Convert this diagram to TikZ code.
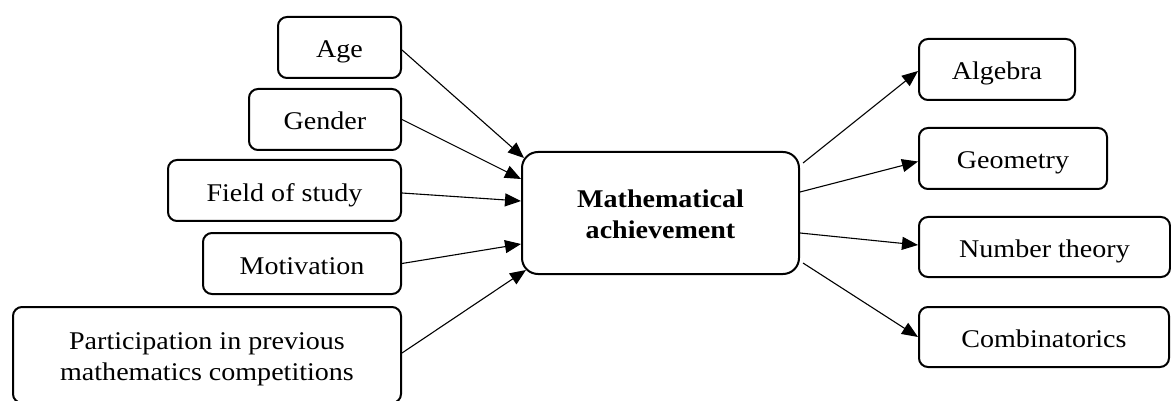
\documentclass[tikz,border=0pt]{standalone}
\usepackage{fontspec}
\setmainfont[FakeStretch=1.1]{Liberation Serif}
\usetikzlibrary{arrows.meta,calc}

\tikzset{
  box/.style={draw, line width=2pt, rounded corners=9pt, align=center,
              inner sep=0pt, text height=21pt, text depth=0pt,
              font=\fontsize{25.5}{31}\selectfont},
  twoline/.style={text height=50pt, text depth=0pt},
  link/.style={line width=1.1pt, -{Triangle[length=16pt,width=13pt]}},
}

\begin{document}
\begin{tikzpicture}[x=1pt,y=-1pt]
  \useasboundingbox (0,0) rectangle (1171,401);

  % influencing factors
  \node[box, minimum width=123pt, minimum height=61pt] (age)    at (339.5,47.5) {Age};
  \node[box, minimum width=152pt, minimum height=61pt] (gender) at (325,119.5) {Gender};
  \node[box, minimum width=233pt, minimum height=61pt] (field)  at (284.5,190.5) {Field of study};
  \node[box, minimum width=198pt, minimum height=61pt] (motiv)  at (302,263.5) {Motivation};
  \node[box, twoline, minimum width=388pt, minimum height=96pt] (part) at (207,355)
       {Participation in previous\\mathematics competitions};

  % central construct
  \node[box, twoline, minimum width=277pt, minimum height=122pt, rounded corners=16pt,
        font=\fontsize{25.5}{31}\selectfont\bfseries] (ach) at (660.5,213)
       {Mathematical\\achievement};

  % achievement domains
  \node[box, minimum width=156pt, minimum height=61pt] (alg)  at (997,69.5) {Algebra};
  \node[box, minimum width=188pt, minimum height=61pt] (geo)  at (1013,158.5) {Geometry};
  \node[box, minimum width=251pt, minimum height=60pt] (num)  at (1044.5,247) {Number theory};
  \node[box, minimum width=250pt, minimum height=60pt] (comb) at (1044,337) {Combinatorics};

  % incoming arrows
  \draw[link] ($(age.east)+(0,2.5)$)    -- ($(ach.west)+(3,-55)$);
  \draw[link] (gender.east)             -- ($(ach.west)+(0,-34)$);
  \draw[link] ($(field.east)+(0,2.5)$)  -- ($(ach.west)+(0,-12)$);
  \draw[link] (motiv.east)              -- ($(ach.west)+(0,31)$);
  \draw[link] ($(part.east)+(0,-2)$)    -- ($(ach.west)+(5,57)$);

  % outgoing arrows
  \draw[link] ($(ach.east)+(3,-50)$) -- ($(alg.west)+(0,1.5)$);
  \draw[link] ($(ach.east)+(0,-21)$) -- ($(geo.west)+(0,3)$);
  \draw[link] ($(ach.east)+(0,20)$)  -- ($(num.west)+(0,-2)$);
  \draw[link] ($(ach.east)+(3,50)$)  -- (comb.west);
\end{tikzpicture}
\end{document}
